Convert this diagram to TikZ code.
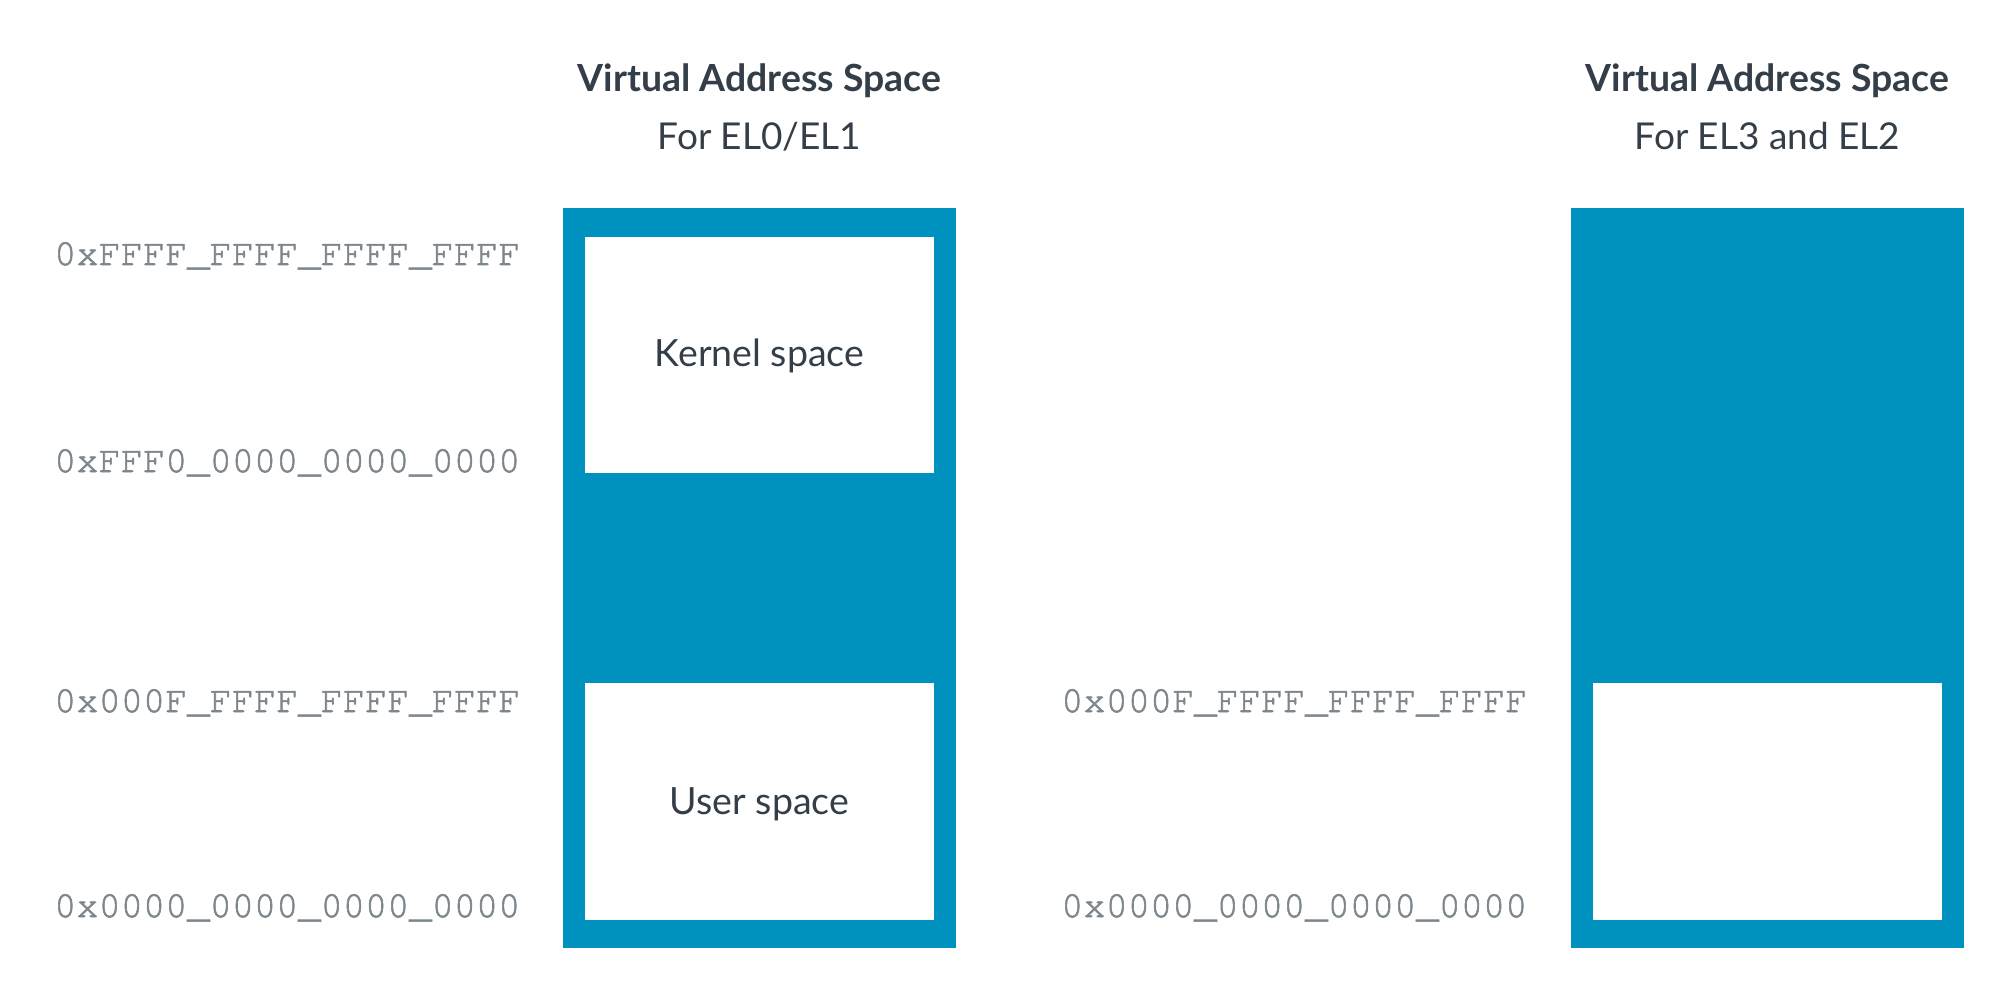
\documentclass[tikz,border=0pt]{standalone}
\usepackage{fontspec}
\setmainfont{Lato}
\setmonofont[FakeBold=1.6]{TeX Gyre Cursor}
\definecolor{armblue}{HTML}{0092BE}
\definecolor{darktxt}{HTML}{333E48}
\definecolor{addrgrey}{HTML}{7D868C}
\tikzset{
  region/.style={fill=armblue, draw=none},
  hole/.style={fill=white, draw=none},
  title/.style={font=\fontsize{37.4}{44}\selectfont\bfseries, text=darktxt, inner sep=0pt, anchor=base},
  subtitle/.style={font=\fontsize{37}{44}\selectfont, text=darktxt, inner sep=0pt, anchor=base},
  spacelbl/.style={font=\fontsize{37.5}{44}\selectfont, text=darktxt, inner sep=0pt, anchor=base},
  addr/.style={font=\fontsize{37}{42}\selectfont\ttfamily, text=addrgrey, inner sep=0pt, anchor=base west},
}
\begin{document}
\begin{tikzpicture}[x=1pt,y=-1pt]
\useasboundingbox (0,0) rectangle (2015,1008);
% left column
\path[region] (563,208) rectangle (956,948);
\path[hole] (585,237) rectangle (934,473);
\path[hole] (585,683) rectangle (934,920);
\node[title] (t1) at (759.5,92) {Virtual Address Space};
\node[subtitle] (s1) at (759.5,150) {For EL0/EL1};
\node[spacelbl] (kern) at (759.5,366.5) {Kernel space};
\node[spacelbl] (user) at (759.5,814) {User space};
\node[addr] (a1) at (54,265) {0xFFFF\_FFFF\_FFFF\_FFFF};
\node[addr] (a2) at (54,472) {0xFFF0\_0000\_0000\_0000};
\node[addr] (a3) at (54,712) {0x000F\_FFFF\_FFFF\_FFFF};
\node[addr] (a4) at (54,917) {0x0000\_0000\_0000\_0000};
% right column
\path[region] (1571,208) rectangle (1964,948);
\path[hole] (1593,683) rectangle (1942,920);
\node[title] (t2) at (1767.5,92) {Virtual Address Space};
\node[subtitle] (s2) at (1767.5,150) {For EL3 and EL2};
\node[addr] (b3) at (1061,712) {0x000F\_FFFF\_FFFF\_FFFF};
\node[addr] (b4) at (1061,917) {0x0000\_0000\_0000\_0000};
\end{tikzpicture}
\end{document}
